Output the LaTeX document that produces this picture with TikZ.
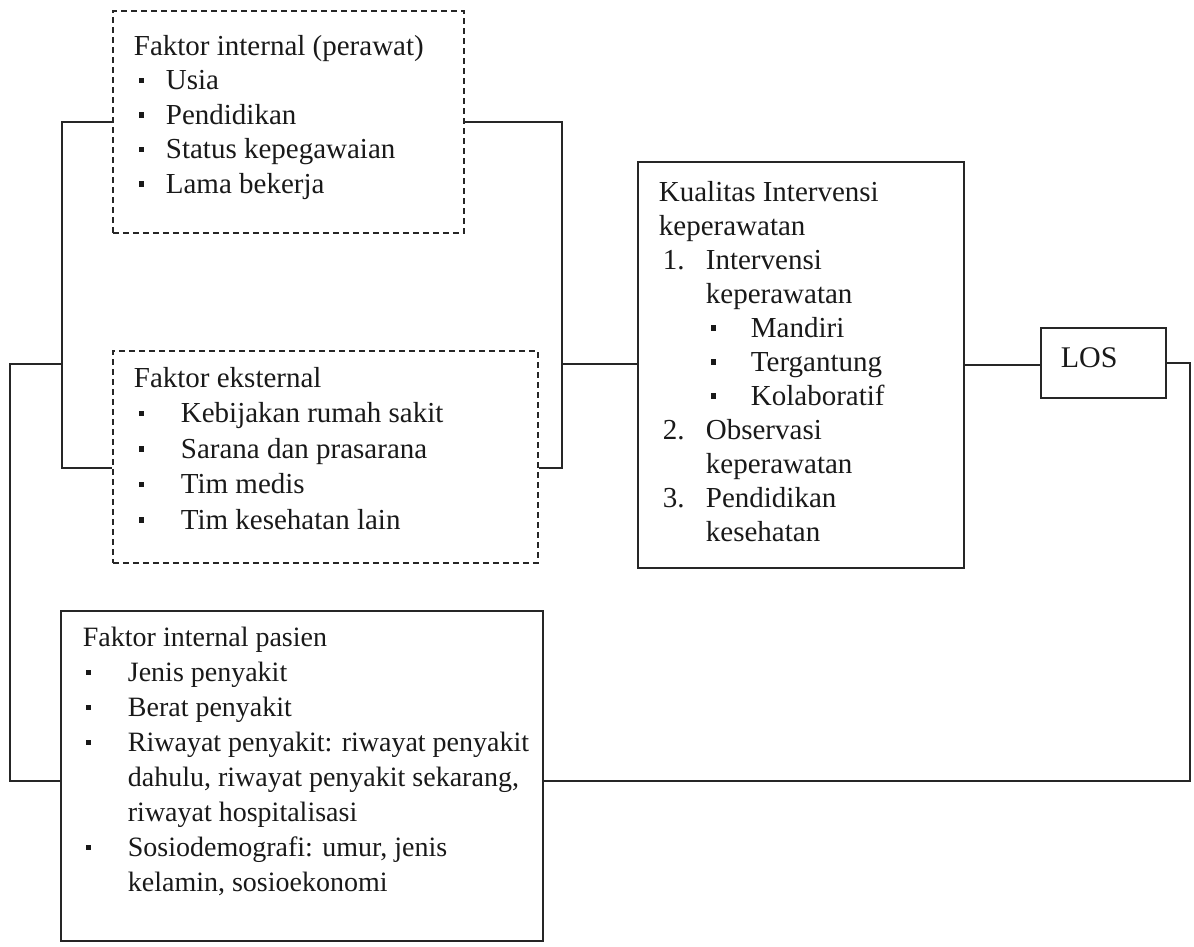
\documentclass[tikz,border=0pt]{standalone}
\usepackage{fontspec}
\setmainfont{Liberation Serif}
\newcommand{\sqb}{\rule[0.22em]{0.18em}{0.18em}}
\begin{document}
\begin{tikzpicture}[x=1pt,y=-1pt,line width=1.8pt,
  box/.style={draw=black!85, rectangle, inner sep=0pt, anchor=north west},
  dbox/.style={box, dash pattern=on 6pt off 4pt},
  txt/.style={anchor=base west, inner sep=0pt, text=black!90},
  conn/.style={draw=black!85}]
\useasboundingbox (0,0) rectangle (1194,946);
% boxes
\node[dbox, minimum width=351pt, minimum height=222pt] (fi) at (112,10) {};
\node[dbox, minimum width=425pt, minimum height=212pt] (fe) at (112,350) {};
\node[box, minimum width=326pt, minimum height=406pt] (ki) at (637,161) {};
\node[box, minimum width=125pt, minimum height=70pt] (los) at (1040,327) {};
\node[box, minimum width=482pt, minimum height=330pt] (fp) at (60,610) {};
% texts
\node[txt] (fitxt) at (133,55) {\parbox[t]{330pt}{\fontsize{29}{34.5}\selectfont
Faktor internal (perawat)\\
\hspace*{5pt}\makebox[27pt][l]{\sqb}Usia\\
\hspace*{5pt}\makebox[27pt][l]{\sqb}Pendidikan\\
\hspace*{5pt}\makebox[27pt][l]{\sqb}Status kepegawaian\\
\hspace*{5pt}\makebox[27pt][l]{\sqb}Lama bekerja}};
\node[txt] (fetxt) at (133,387) {\parbox[t]{400pt}{\fontsize{29}{35.5}\selectfont
Faktor eksternal\\
\hspace*{5pt}\makebox[42pt][l]{\sqb}Kebijakan rumah sakit\\
\hspace*{5pt}\makebox[42pt][l]{\sqb}Sarana dan prasarana\\
\hspace*{5pt}\makebox[42pt][l]{\sqb}Tim medis\\
\hspace*{5pt}\makebox[42pt][l]{\sqb}Tim kesehatan lain}};
\node[txt] (kitxt) at (658,201) {\parbox[t]{300pt}{\fontsize{29}{34}\selectfont
Kualitas Intervensi\\
keperawatan\\
\hspace*{4pt}\makebox[43pt][l]{1.}Intervensi\\
\hspace*{47pt}keperawatan\\
\hspace*{52pt}\makebox[40pt][l]{\sqb}Mandiri\\
\hspace*{52pt}\makebox[40pt][l]{\sqb}Tergantung\\
\hspace*{52pt}\makebox[40pt][l]{\sqb}Kolaboratif\\
\hspace*{4pt}\makebox[43pt][l]{2.}Observasi\\
\hspace*{47pt}keperawatan\\
\hspace*{4pt}\makebox[43pt][l]{3.}Pendidikan\\
\hspace*{47pt}kesehatan}};
\node[txt] (lostxt) at (1060,367) {\fontsize{30}{36}\selectfont LOS};
\node[txt] (fptxt) at (82,646) {\parbox[t]{450pt}{\fontsize{28}{35}\selectfont
Faktor internal pasien\\
\hspace*{3pt}\makebox[42pt][l]{\sqb}Jenis penyakit\\
\hspace*{3pt}\makebox[42pt][l]{\sqb}Berat penyakit\\
\hspace*{3pt}\makebox[42pt][l]{\sqb}Riwayat penyakit: riwayat penyakit\\
\hspace*{45pt}dahulu, riwayat penyakit sekarang,\\
\hspace*{45pt}riwayat hospitalisasi\\
\hspace*{3pt}\makebox[42pt][l]{\sqb}Sosiodemografi: umur, jenis\\
\hspace*{45pt}kelamin, sosioekonomi}};
% connectors
\coordinate (jl) at (62,364);
\coordinate (jr) at (562,364);
\coordinate (ol) at (10,781);
\coordinate (orr) at (1190,781);
\draw[conn] (fi.west) -| (62,468) -- (fe.west |- 62,468);
\draw[conn] (fi.east) -| (562,468) -- (fe.east |- 562,468);
\draw[conn] (jr) -- (ki.west |- jr);
\draw[conn] (ki.east) -- (ki.east -| los.west);
\draw[conn] (los.east) -| (orr) -- (fp.east |- orr);
\draw[conn] (jl) -| (ol) -- (fp.west |- ol);
\end{tikzpicture}
\end{document}
